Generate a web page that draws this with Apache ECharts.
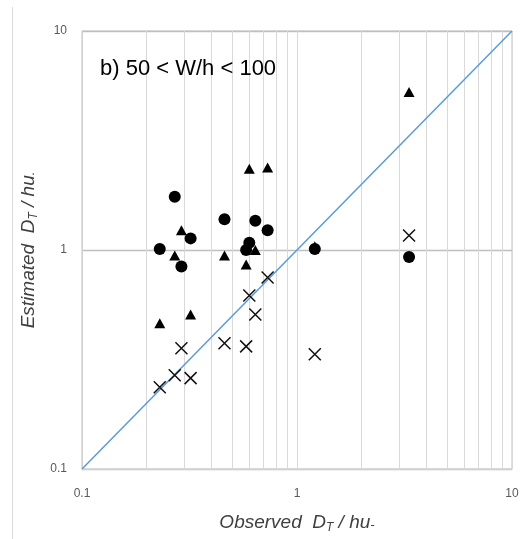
<!DOCTYPE html>
<html>
<head>
<meta charset="utf-8">
<script src="https://cdn.jsdelivr.net/npm/echarts@6/dist/echarts.min.js"></script>
<style>
html,body{margin:0;padding:0;background:#fff;}
#chart{width:522px;height:539px;}
</style>
</head>
<body>
<div id="chart"></div>
<script>
// Observed D_T / hu* (shared by the three series)
const observed = [0.23, 0.27, 0.29, 0.32, 0.46, 0.58, 0.60, 0.64, 0.73, 1.21, 3.32];
// Estimated values, one array per marker series
const estCircle   = [1.01, 1.75, 0.84, 1.13, 1.38, 1.00, 1.08, 1.36, 1.23, 1.01, 0.93];
const estTriangle = [0.463, 0.944, 1.23, 0.508, 0.944, 0.859, 2.35, 1.00, 2.38, 1.04, 5.27];
const estCross    = [0.236, 0.268, 0.356, 0.260, 0.375, 0.363, 0.62, 0.508, 0.749, 0.334, 1.164];
// 1:1 line end points
const oneToOne = [0.1, 10];
// Axis tick labels
const tickLabels = [0.1, 1, 10];
// minor vertical grid lines
const minorGrid = [0.2,0.3,0.4,0.5,0.6,0.7,0.8,0.9,2,3,4,5,6,7,8,9];

const pair = (ys) => observed.map((x, i) => [x, ys[i]]);
const FONT = '"Liberation Sans", Arial, sans-serif';

const chart = echarts.init(document.getElementById('chart'), null, {renderer: 'canvas'});
const fmt = (v) => {
  const m = tickLabels.find(t => Math.abs(t - v) / t < 1e-6);
  return m === undefined ? '' : String(m);
};
const nameStyle = {
  fontFamily: FONT, fontSize: 19, fontStyle: 'italic', color: '#404040',
  rich: {
    s: {fontFamily: FONT, fontSize: 12, fontStyle: 'italic', color: '#404040', padding: [10, 0, 0, 0]},
    d: {fontFamily: FONT, fontSize: 13, fontStyle: 'italic', color: '#404040', padding: [4, 0, 0, 0]}
  }
};

chart.setOption({
  animation: false,
  backgroundColor: '#fff',
  textStyle: {fontFamily: FONT},
  title: {
    text: 'b) 50 < W/h < 100',
    left: 95, top: 53,
    textStyle: {fontFamily: FONT, fontSize: 22, fontWeight: 'normal', color: '#000'}
  },
  graphic: [{
    type: 'line', silent: true,
    shape: {x1: 12.5, y1: 7, x2: 12.5, y2: 539},
    style: {stroke: '#d9d9d9', lineWidth: 1}
  }],
  grid: {left: 82, right: 10, top: 31, bottom: 69, show: true, borderColor: '#c0c0c0', borderWidth: 1},
  xAxis: {
    type: 'log', logBase: 10, min: 0.1, max: 10,
    name: 'Observed  D{s|T} / hu{d|-}',
    nameLocation: 'middle', nameGap: 43,
    nameTextStyle: nameStyle,
    axisLine: {show: true, lineStyle: {color: '#d0d0d0'}},
    axisTick: {show: false},
    axisLabel: {formatter: fmt, margin: 19, fontSize: 12, color: '#595959', fontFamily: FONT},
    splitLine: {show: true, lineStyle: {color: '#d9d9d9', width: 1}}
  },
  yAxis: {
    type: 'log', logBase: 10, min: 0.1, max: 10,
    name: 'Estimated  D{s|T} / hu{d|.}',
    nameLocation: 'middle', nameGap: 34,
    nameTextStyle: nameStyle,
    axisLine: {show: true, lineStyle: {color: '#d0d0d0'}},
    axisTick: {show: false},
    axisLabel: {formatter: fmt, margin: 15, fontSize: 12, color: '#595959', fontFamily: FONT},
    splitLine: {show: true, lineStyle: {color: '#bfbfbf', width: 1.3}}
  },
  series: [
    {
      type: 'line', data: oneToOne.map(v => [v, v]), symbol: 'none', silent: true,
      lineStyle: {color: '#5b9bd5', width: 1.5}, z: 3,
      markLine: {
        silent: true, symbol: 'none', label: {show: false},
        lineStyle: {color: '#d9d9d9', width: 1, type: 'solid'},
        data: minorGrid.map(v => ({xAxis: v})),
        z: 1
      }
    },
    {
      type: 'scatter', name: 'circle', data: pair(estCircle),
      symbol: 'circle', symbolSize: 12, itemStyle: {color: '#000', opacity: 1}, z: 5
    },
    {
      type: 'scatter', name: 'triangle', data: pair(estTriangle),
      symbol: 'triangle', symbolSize: [11, 10], itemStyle: {color: '#000', opacity: 1}, z: 5
    },
    {
      type: 'scatter', name: 'cross', data: pair(estCross),
      symbol: 'path://M0,0L10,10M0,10L10,0', symbolSize: 12,
      itemStyle: {color: 'rgba(0,0,0,0)', borderColor: '#111', borderWidth: 1.5, opacity: 1}, z: 5
    }
  ]
});
</script>
</body>
</html>
